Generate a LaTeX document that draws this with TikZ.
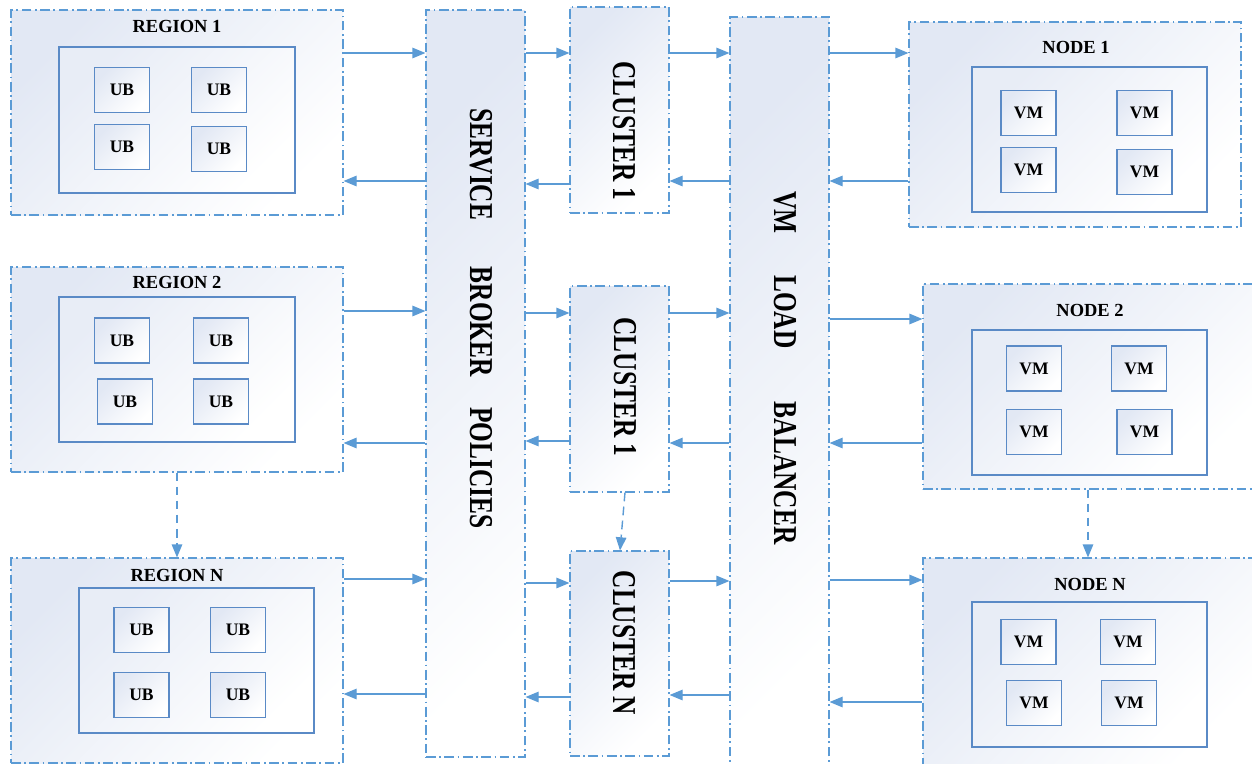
\documentclass[tikz,border=0pt]{standalone}
\usepackage{fontspec}
\setmainfont{Liberation Serif}
\usetikzlibrary{arrows.meta, positioning, fit}

\definecolor{lineblue}{HTML}{5B9BD5}
\definecolor{boxblue}{HTML}{5A8AC6}
\definecolor{shadeblue}{HTML}{E2E8F4}
\newcommand{\squeezed}[1]{\scalebox{0.76}[1]{#1}}

\begin{document}
\begin{tikzpicture}[
  x=0.02cm, y=-0.02cm,
  outerbox/.style={draw=lineblue, line width=0.6pt, dash pattern=on 5.5pt off 2pt on 1pt off 2pt,
    top color=shadeblue, middle color=shadeblue!30, bottom color=white, shading angle=45, inner sep=0pt},
  innerbox/.style={draw=boxblue, line width=0.9pt, top color=shadeblue!80, middle color=shadeblue!20,
    bottom color=white, shading angle=45, inner sep=0pt},
  ubbox/.style={draw=boxblue, line width=0.9pt, top color=shadeblue, middle color=shadeblue!30,
    bottom color=white, shading angle=45, minimum width=1.1cm, minimum height=0.9cm, inner sep=0pt,
    font=\fontsize{10}{12}\selectfont\bfseries},
  title/.style={font=\fontsize{10.5}{12}\selectfont\bfseries},
  vlabel/.style={rotate=-90, font=\fontsize{19}{22}\selectfont\bfseries},
  arrow/.style={-{Triangle[length=7.5pt,width=6pt]}, draw=lineblue, line width=0.8pt},
  dasharrow/.style={arrow, dash pattern=on 5pt off 3pt}
]
\useasboundingbox (0,0) rectangle (1252,764);

% regions
\node[outerbox, fit={(11,10) (343,215)}] (reg1) {};
\node[outerbox, fit={(11,267) (343,472)}] (reg2) {};
\node[outerbox, fit={(11,558) (343,763)}] (regN) {};
\node[title] (reg1t) at (177,26) {REGION 1};
\node[title] (reg2t) at (177,282) {REGION 2};
\node[title] (regNt) at (177,575) {REGION N};
\node[innerbox, fit={(59,47) (295,193)}] (reg1in) {};
\node[innerbox, fit={(59,297) (295,442)}] (reg2in) {};
\node[innerbox, fit={(79,588) (314,733)}] (regNin) {};
\foreach \x/\y [count=\i] in {122/90, 219/90, 122/147, 219/149}
  \node[ubbox] (r1ub\i) at (\x,\y) {UB};
\foreach \x/\y [count=\i] in {122/340.5, 221/340.5, 125/401.5, 221/401.5}
  \node[ubbox] (r2ub\i) at (\x,\y) {UB};
\foreach \x/\y [count=\i] in {141.5/630, 238/630, 141.5/695, 238/695}
  \node[ubbox] (rNub\i) at (\x,\y) {UB};

% broker, clusters, load balancer
\node[outerbox, fit={(426,10) (525,757)}] (sb) {};
\node[outerbox, fit={(570,7) (669,213)}] (cl1) {};
\node[outerbox, fit={(570,286) (669,492)}] (cl2) {};
\node[outerbox, fit={(570,551) (669,756)}] (clN) {};
\node[outerbox, fit={(730,17) (829,768)}] (lb) {};
\node[vlabel] (sbt) at (481,318.5) {\squeezed{SERVICE\hspace{35pt}BROKER\hspace{23pt}POLICIES}};
\node[vlabel] (cl1t) at (624,131) {\squeezed{CLUSTER 1}};
\node[vlabel] (cl2t) at (625,387) {\squeezed{CLUSTER 1}};
\node[vlabel] (clNt) at (624,643) {\squeezed{CLUSTER N}};
\node[vlabel] (lbt) at (785,368) {\squeezed{VM\hspace{31pt}LOAD\hspace{40pt}BALANCER}};

% nodes
\node[outerbox, fit={(909,22) (1241,227)}] (nd1) {};
\node[outerbox, fit={(923,284) (1253,489)}] (nd2) {};
\node[outerbox, fit={(923,558) (1253,768)}] (ndN) {};
\node[title] (nd1t) at (1076,47) {NODE 1};
\node[title] (nd2t) at (1090,310) {NODE 2};
\node[title] (ndNt) at (1090,584) {NODE N};
\node[innerbox, fit={(972,67) (1207,212)}] (nd1in) {};
\node[innerbox, fit={(972,330) (1207,475)}] (nd2in) {};
\node[innerbox, fit={(972,602) (1207,747)}] (ndNin) {};
\foreach \x/\y [count=\i] in {1028.5/113, 1144.5/113, 1028.5/170, 1144.5/172}
  \node[ubbox] (n1vm\i) at (\x,\y) {VM};
\foreach \x/\y [count=\i] in {1034/368.5, 1139/368.5, 1034/432, 1144.5/432}
  \node[ubbox] (n2vm\i) at (\x,\y) {VM};
\foreach \x/\y [count=\i] in {1028.5/642, 1128/642, 1034/703, 1129/703}
  \node[ubbox] (nNvm\i) at (\x,\y) {VM};

% regions <-> broker
\draw[arrow] (reg1.east |- 0,53) -- (sb.west |- 0,53);
\draw[arrow] (sb.west |- 0,181) -- (reg1.east |- 0,181);
\draw[arrow] (reg2.east |- 0,311) -- (sb.west |- 0,311);
\draw[arrow] (sb.west |- 0,443) -- (reg2.east |- 0,443);
\draw[arrow] (regN.east |- 0,579) -- (sb.west |- 0,579);
\draw[arrow] (sb.west |- 0,694) -- (regN.east |- 0,694);

% broker <-> clusters
\draw[arrow] (sb.east |- 0,53) -- (cl1.west |- 0,53);
\draw[arrow] (cl1.west |- 0,184) -- (sb.east |- 0,184);
\draw[arrow] (sb.east |- 0,313) -- (cl2.west |- 0,313);
\draw[arrow] (cl2.west |- 0,441) -- (sb.east |- 0,441);
\draw[arrow] (sb.east |- 0,583) -- (clN.west |- 0,583);
\draw[arrow] (clN.west |- 0,697) -- (sb.east |- 0,697);

% clusters <-> load balancer
\draw[arrow] (cl1.east |- 0,53) -- (lb.west |- 0,53);
\draw[arrow] (lb.west |- 0,181) -- (cl1.east |- 0,181);
\draw[arrow] (cl2.east |- 0,313) -- (lb.west |- 0,313);
\draw[arrow] (lb.west |- 0,443) -- (cl2.east |- 0,443);
\draw[arrow] (clN.east |- 0,581) -- (lb.west |- 0,581);
\draw[arrow] (lb.west |- 0,695) -- (clN.east |- 0,695);

% load balancer <-> nodes
\draw[arrow] (lb.east |- 0,53) -- (nd1.west |- 0,53);
\draw[arrow] (nd1.west |- 0,181) -- (lb.east |- 0,181);
\draw[arrow] (lb.east |- 0,319) -- (nd2.west |- 0,319);
\draw[arrow] (nd2.west |- 0,443) -- (lb.east |- 0,443);
\draw[arrow] (lb.east |- 0,580) -- (ndN.west |- 0,580);
\draw[arrow] (ndN.west |- 0,702) -- (lb.east |- 0,702);

% dashed links
\draw[dasharrow] (reg2.south) -- (regN.north);
\draw[dasharrow] (cl2.south -| 625,0) -- (clN.north -| 620,0);
\draw[dasharrow] (nd2.south) -- (ndN.north);

\end{tikzpicture}
\end{document}
